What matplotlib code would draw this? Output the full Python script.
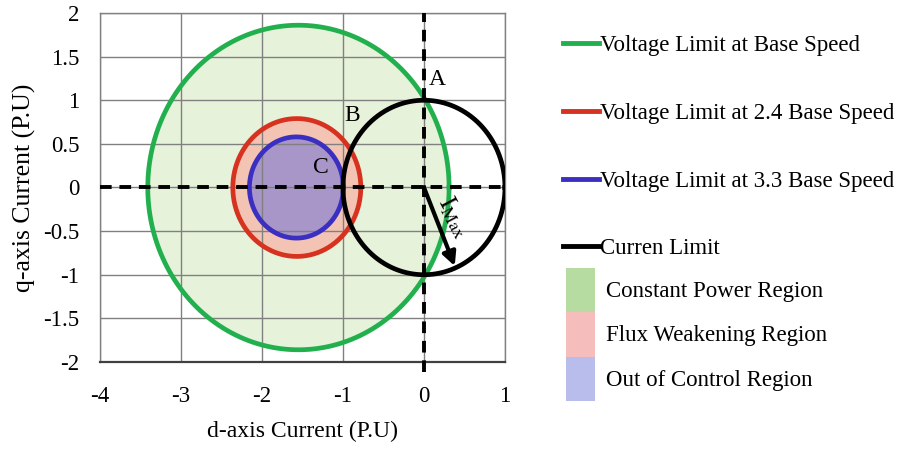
import numpy as np
import matplotlib
matplotlib.use("Agg")
import matplotlib.pyplot as plt
from matplotlib.lines import Line2D
from matplotlib.patches import Patch

plt.rcParams['font.family'] = ['Liberation Serif', 'DejaVu Serif']
plt.rcParams['mathtext.fontset'] = 'stix'
plt.rcParams['axes.unicode_minus'] = False

# circle data: (d-center, q-center, radius)
curve_names = ["Voltage Limit at Base Speed", "Voltage Limit at 2.4 Base Speed",
               "Voltage Limit at 3.3 Base Speed", "Curren Limit"]
centers_d = [-1.55, -1.57, -1.575, 0.0]
centers_q = [0.0, 0.0, 0.0, 0.0]
radii = [1.86, 0.79, 0.58, 1.0]
line_colors = ["#22b04e", "#d6321f", "#3b2fc2", "#000000"]
fill_colors = ["#e6f2d9", "#f3c4b3", "#a996c9", None]

region_names = ["Constant Power Region", "Flux Weakening Region", "Out of Control Region"]
region_colors = ["#b6dca2", "#f5bdbb", "#b9bdec"]

x_ticks = [-4, -3, -2, -1, 0, 1]
y_ticks = [-2, -1.5, -1, -0.5, 0, 0.5, 1, 1.5, 2]
y_labels = ["-2", "-1.5", "-1", "-0.5", "0", "0.5", "1", "1.5", "2"]

imax_tip = (0.38, -0.9)
point_labels = ["A", "B", "C"]
point_d = [0.06, -0.98, -1.37]
point_q = [1.24, 0.83, 0.23]

fig = plt.figure(figsize=(9.04, 4.53), dpi=100)
ax = fig.add_axes([0.1106, 0.2009, 0.448, 0.7704])

theta = np.linspace(0, 2 * np.pi, 400)
for i in range(len(radii)):
    d = centers_d[i] + radii[i] * np.cos(theta)
    q = centers_q[i] + radii[i] * np.sin(theta)
    if fill_colors[i] is not None:
        ax.fill(d, q, color=fill_colors[i], lw=0, zorder=0.5)
    ax.plot(d, q, color=line_colors[i], lw=3.4, zorder=3 + i * 0.1)

# dashed d/q axes
ax.plot([-4, 1], [0, 0], color='black', lw=2.8, ls=(0, (3, 2)), zorder=3.5)
ax.plot([0, 0], [-2.12, 2], color='black', lw=2.8, ls=(0, (3, 2)), zorder=3.5, clip_on=False)

ax.annotate("", xy=imax_tip, xytext=(0, 0),
            arrowprops=dict(arrowstyle='-|>', color='black', lw=3,
                            mutation_scale=20, shrinkA=0, shrinkB=0), zorder=4)
ax.text(0.37, -0.34, r'$\mathrm{I_{Max}}$', fontsize=18, rotation=-62,
        ha='center', va='center', zorder=4)

for lab, d, q in zip(point_labels, point_d, point_q):
    ax.text(d, q, lab, fontsize=17, ha='left', va='center', zorder=4)

ax.set_xlim(-4, 1)
ax.set_ylim(-2, 2)
ax.set_xticks(x_ticks)
ax.set_yticks(y_ticks)
ax.set_yticklabels(y_labels)
ax.tick_params(length=0, labelsize=16.5)
ax.tick_params(axis='x', pad=17)
ax.tick_params(axis='y', pad=15)
ax.set_axisbelow('line')
ax.grid(True, color='#808080', lw=1)
for s in ['left', 'top', 'right']:
    ax.spines[s].set_color('#808080')
    ax.spines[s].set_linewidth(1)
ax.spines['bottom'].set_color('#404040')
ax.spines['bottom'].set_linewidth(1.6)

ax.set_xlabel("d-axis Current (P.U)", fontsize=17, labelpad=10)
ax.set_ylabel("q-axis Current (P.U)", fontsize=18.5, labelpad=5)

line_handles = [Line2D([0], [0], color=c, lw=3.5) for c in line_colors]
leg1 = fig.legend(line_handles, curve_names, loc='upper left',
                  bbox_to_anchor=(563 / 904, 1 - 35 / 453), frameon=False,
                  fontsize=16.5, borderpad=0, borderaxespad=0,
                  handlelength=1.55, handletextpad=0.05, labelspacing=2.04)
patch_handles = [Patch(facecolor=c, edgecolor='none') for c in region_colors]
leg2 = fig.legend(patch_handles, region_names, loc='upper left',
                  bbox_to_anchor=(566 / 904, 1 - 268 / 453), frameon=False,
                  fontsize=16.5, borderpad=0, borderaxespad=0,
                  handlelength=1.25, handleheight=2.6, handletextpad=0.5,
                  labelspacing=0.0)

fig.savefig("out.png", dpi=100)
